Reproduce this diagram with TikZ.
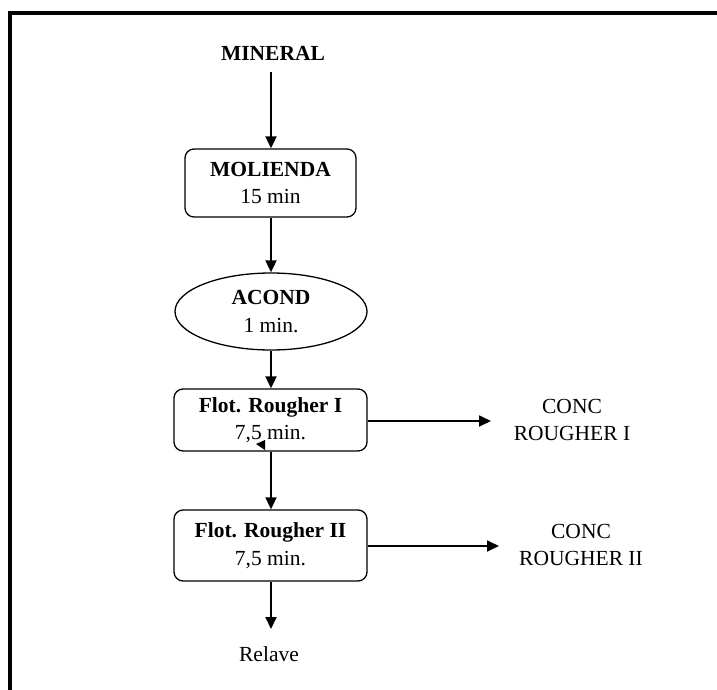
\documentclass[tikz,border=0pt]{standalone}
\usepackage{fontspec}
\setmainfont{Liberation Serif}
\usetikzlibrary{arrows.meta,shapes.geometric}
\begin{document}
\begin{tikzpicture}[x=1pt,y=-1pt,
  txt/.style={font=\fontsize{21.5}{27.5}\selectfont, align=center, inner sep=0pt},
  procbox/.style={txt, draw, line width=1.3pt, rounded corners=9pt},
  flow/.style={line width=1.8pt, -{Triangle[length=12pt,width=11pt]}},
  frame/.style={line width=4pt}
]
\useasboundingbox (0,0) rectangle (717,690);
\clip (0,0) rectangle (717,690);
\draw[frame] (10,720) -- (10,13) -- (740,13);

\node[txt, font=\fontsize{21.5}{27.5}\selectfont\bfseries] (mineral) at (273,53) {MINERAL};
\node[procbox, minimum width=171pt, minimum height=68pt] (molienda) at (270.5,183)
  {\textbf{MOLIENDA}\\15 min};
\node[txt, draw, line width=1.3pt, ellipse, minimum width=192pt, minimum height=77pt] (acond) at (271,311.5)
  {\textbf{ACOND}\\1 min.};
\node[procbox, minimum width=193pt, minimum height=62pt] (r1) at (270.5,420)
  {\textbf{Flot. Rougher I}\\7,5 min.};
\node[procbox, minimum width=193pt, minimum height=71pt] (r2) at (270.5,545.5)
  {\textbf{Flot. Rougher II}\\7,5 min.};
\node[txt] (c1) at (572,420) {CONC\\ROUGHER I};
\node[txt] (c2) at (581,545) {CONC\\ROUGHER II};
\node[txt] (relave) at (269,654) {Relave};

\coordinate (minout) at (271,72);
\coordinate (c1end) at (491,421);
\coordinate (c2end) at (499,546);
\coordinate (relend) at (271,629);

\draw[flow] (minout) -- (minout |- molienda.north);
\draw[flow] (molienda.south -| minout) -- (acond.north -| minout);
\draw[flow] (acond.south -| minout) -- (r1.north -| minout);
\draw[flow] (r1.south -| minout) -- (r2.north -| minout);
\draw[flow] (r2.south -| minout) -- (relend);
\draw[flow] (r1.east |- c1end) -- (c1end);
\draw[flow] (r2.east |- c2end) -- (c2end);

\fill (256,444) -- (265,440) -- (265,450) -- cycle;
\end{tikzpicture}
\end{document}
